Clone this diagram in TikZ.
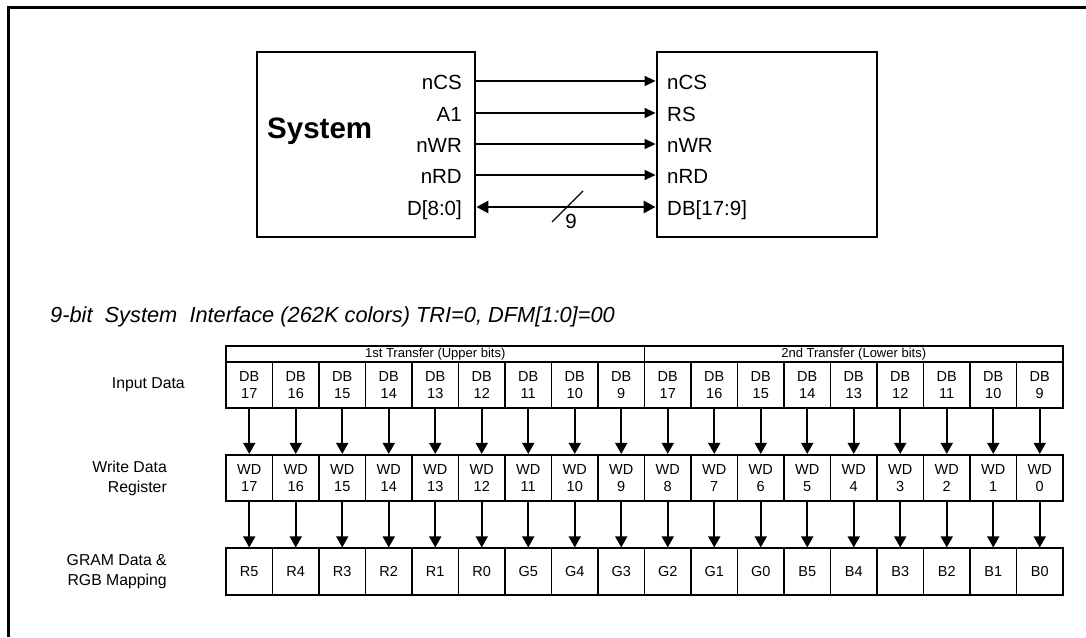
\documentclass[tikz,border=0pt]{standalone}
\usepackage{fontspec}
\setmainfont{Liberation Sans}
\usetikzlibrary{arrows.meta}
\begin{document}
\begin{tikzpicture}[x=1pt,y=-1pt,
  box/.style={draw, line width=2.8pt, inner sep=0pt},
  sig/.style={line width=1.4pt, -{Triangle[length=11pt,width=10pt]}},
  bus/.style={line width=2.7pt, {Triangle[length=12pt,width=12pt]}-{Triangle[length=12pt,width=12pt]}},
  lbl/.style={font=\fontsize{20.5}{24}\selectfont, inner sep=0pt},
  cell/.style={draw, line width=1.6pt, minimum width=46.5pt, minimum height=46.5pt, inner sep=0pt, align=center, font=\fontsize{14.5}{17}\selectfont},
  hdr/.style={draw, line width=1.6pt, minimum width=418.5pt, minimum height=16pt, inner sep=0pt, font=\fontsize{13}{14}\selectfont},
  down/.style={line width=1.6pt, -{Triangle[length=11pt,width=12pt]}},
  rowlbl/.style={font=\fontsize{15.8}{20}\selectfont, align=right, inner sep=0pt}
]
\useasboundingbox (0,0) rectangle (1086,637);
% outer frame (only top and left edges visible)
\draw[line width=3pt] (8.5,637) -- (8.5,7) -- (1086,7);

% top blocks
\node[box, minimum width=218pt, minimum height=185pt] (sys) at (366,144.5) {};
\node[box, minimum width=220pt, minimum height=185pt] (lcd) at (767,144.5) {};
\node[anchor=base west, inner sep=0pt, font=\fontsize{29.5}{32}\selectfont\bfseries] (systxt) at (267,138) {System};

\foreach \y/\a/\b [count=\k] in {81/nCS/nCS, 113/A1/RS, 144/nWR/nWR, 175/nRD/nRD}{
  \node[lbl, anchor=base east] (sl\k) at (462,\y+8) {\a};
  \node[lbl, anchor=base west] (ll\k) at (667,\y+8) {\b};
  \draw[sig] (sys.east |- 0,\y) -- (lcd.west |- 0,\y);
}
\node[lbl, anchor=base east] (sl5) at (462,215) {D[8:0]};
\node[lbl, anchor=base west] (ll5) at (667,215) {DB[17:9]};
\draw[bus] (sys.east |- 0,207) -- (lcd.west |- 0,207);
\coordinate (sa) at (552,222);
\coordinate (sb) at (583,191);
\draw[line width=1.2pt] (sa) -- (sb);
\node[lbl] (nine) at (571,221) {9};

% title
\node[anchor=base west, inner sep=0pt, font=\fontsize{21.8}{24}\selectfont\itshape] (title) at (50,322)
  {9-bit\ \ System\ \ Interface (262K colors) TRI=0, DFM[1:0]=00};

% table header
\node[hdr] (h1) at (435.25,354) {1st Transfer (Upper bits)};
\node[hdr] (h2) at (853.75,354) {2nd Transfer (Lower bits)};

% row labels
\node[rowlbl, anchor=east] (rl1) at (185,385) {Input Data};
\node[rowlbl, anchor=east] (rl2) at (167,478) {Write Data\\Register};
\node[rowlbl, anchor=east] (rl3) at (167,572) {GRAM Data \&\\RGB Mapping};

% cells
\foreach \g [count=\i from 0] in {R5,R4,R3,R2,R1,R0,G5,G4,G3,G2,G1,G0,B5,B4,B3,B2,B1,B0}{
  \pgfmathtruncatemacro{\dbn}{\i<9 ? 17-\i : 26-\i}
  \pgfmathtruncatemacro{\wdn}{17-\i}
  \pgfmathsetmacro{\cx}{226+46.5*(\i+0.5)}
  \node[cell] (in\i) at (\cx,385) {DB\\\dbn};
  \node[cell] (wd\i) at (\cx,478) {WD\\\wdn};
  \node[cell] (gr\i) at (\cx,571.5) {\g};
  \draw[down] (in\i) -- (wd\i);
  \draw[down] (wd\i) -- (gr\i);
}
\end{tikzpicture}
\end{document}
